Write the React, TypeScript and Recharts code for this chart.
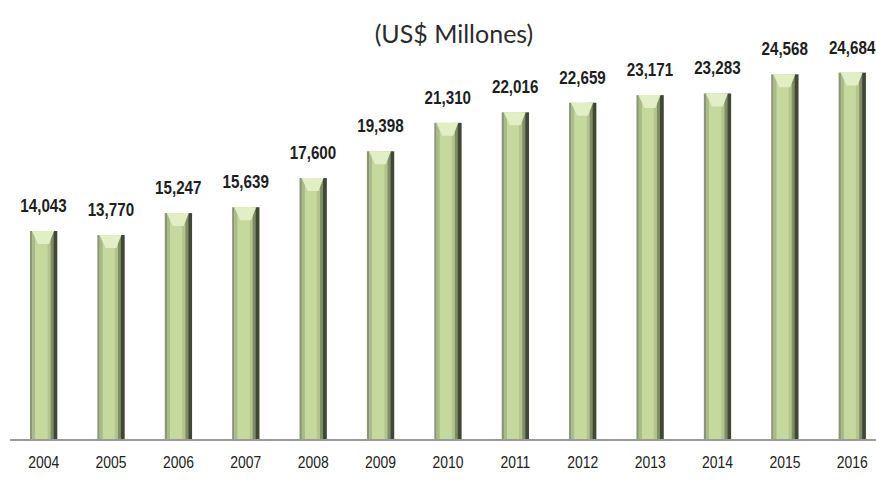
import React from 'react';
import { BarChart, Bar, XAxis, YAxis, LabelList } from 'recharts';

const years = ['2004', '2005', '2006', '2007', '2008', '2009', '2010', '2011', '2012', '2013', '2014', '2015', '2016'];
const values = [14043, 13770, 15247, 15639, 17600, 19398, 21310, 22016, 22659, 23171, 23283, 24568, 24684];

const data = years.map((year, i) => ({ year, value: values[i] }));

const FONT = '"Liberation Sans", Arial, sans-serif';

// vertical strips that fake the cylinder shading: [start, end, colour]
const STRIPS: [number, number, string][] = [
  [0, 0.08, '#8a9675'],
  [0.08, 0.2, '#a9bb88'],
  [0.2, 0.64, '#c5d99d'],
  [0.64, 0.76, '#b3c58d'],
  [0.76, 0.87, '#7f8d65'],
  [0.87, 1, '#3f4834'],
];

function BevelBar(props: any) {
  const x = Number(props.x);
  const y = Number(props.y);
  const width = Number(props.width);
  const height = Number(props.height);
  if (!height || height <= 0 || width <= 0) return null;
  const cap = Math.min(13, height);
  return (
    <g>
      {STRIPS.map(([a, b, c], i) => (
        <rect key={i} x={x + a * width} y={y} width={(b - a) * width + 0.3} height={height} fill={c} />
      ))}
      <path
        d={`M${x + 2},${y} L${x + width - 3},${y} L${x + width * 0.7},${y + cap} L${x + width * 0.3},${y + cap} Z`}
        fill="#e2eec4"
      />
    </g>
  );
}

// narrow bold value label, squeezed horizontally like the original
function ValueLabel(props: any) {
  const { x, y, width, value } = props;
  const cx = Number(x) + Number(width) / 2;
  const by = Number(y) - 19;
  return (
    <text
      transform={`translate(${cx},${by}) scale(0.8,1)`}
      textAnchor="middle"
      fontFamily={FONT}
      fontWeight={700}
      fontSize={19}
      fill="#1e1e1e"
    >
      {Number(value).toLocaleString('en-US')}
    </text>
  );
}

function YearTick(props: any) {
  const { x, y, payload } = props;
  return (
    <text
      transform={`translate(${x},${Number(y) + 20}) scale(0.82,1)`}
      textAnchor="middle"
      fontFamily={FONT}
      fontSize={17}
      fill="#222"
    >
      {payload.value}
    </text>
  );
}

export default function App() {
  return (
    <div style={{ position: 'absolute', left: 0, top: 0, width: 876, height: 484, overflow: 'hidden', background: '#fff' }}>
      <div
        style={{
          position: 'absolute',
          top: 18,
          left: 0,
          width: 908,
          textAlign: 'center',
          fontFamily: 'Lato, sans-serif',
          fontSize: 25,
          color: '#2b2b2b',
        }}
      >
        (US$ Millones)
      </div>
      <BarChart
        width={886}
        height={484}
        data={data}
        margin={{ top: 53, right: 0, bottom: 0, left: 10 }}
        barCategoryGap={20}
      >
        <XAxis
          dataKey="year"
          height={44}
          tickLine={false}
          axisLine={{ stroke: '#9a9a9a', strokeWidth: 2 }}
          tick={<YearTick />}
          interval={0}
        />
        <YAxis hide domain={[0, 26000]} />
        <Bar dataKey="value" shape={<BevelBar />} isAnimationActive={false}>
          <LabelList dataKey="value" content={<ValueLabel />} />
        </Bar>
      </BarChart>
    </div>
  );
}
